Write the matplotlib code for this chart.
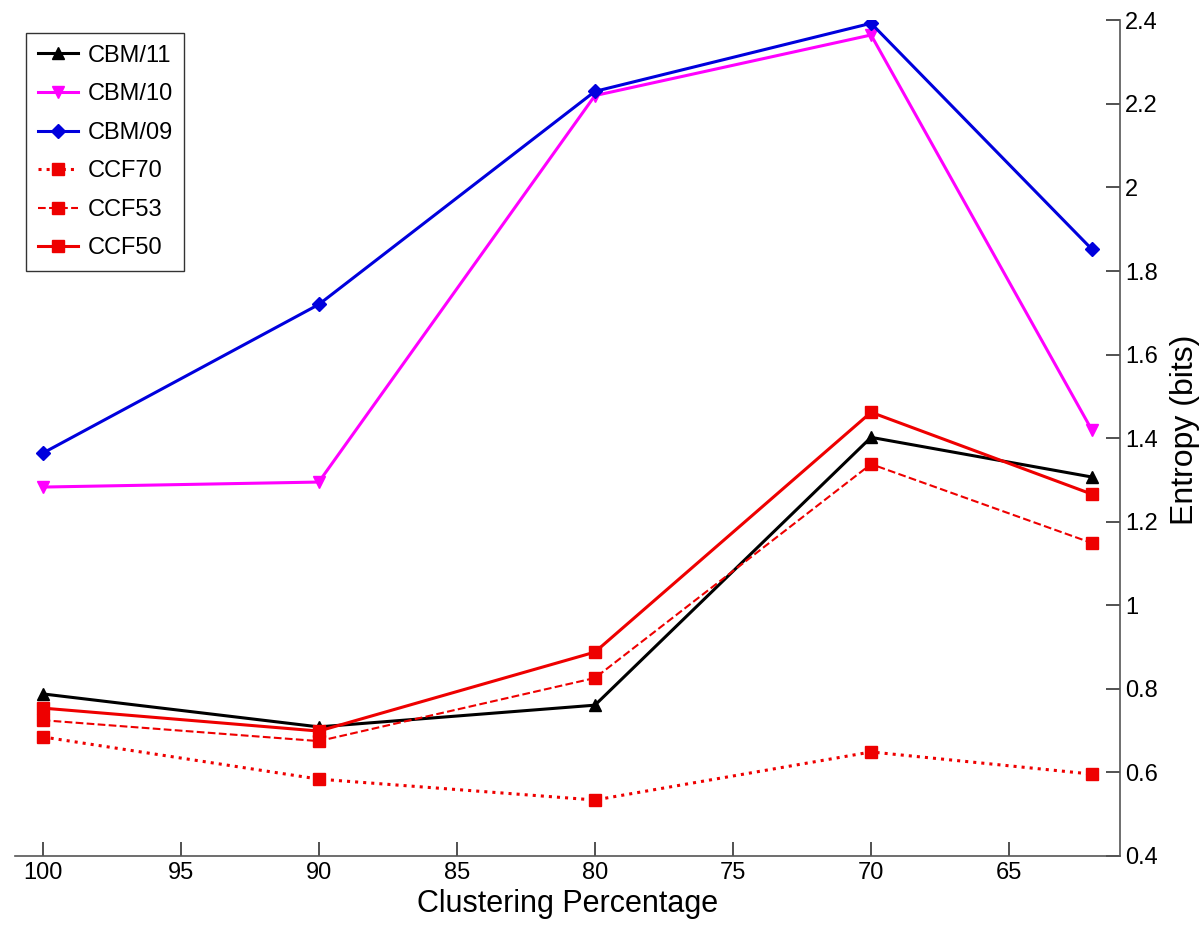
import matplotlib
matplotlib.use('Agg')
import matplotlib.pyplot as plt

plt.rcParams['font.family'] = ['Liberation Sans', 'DejaVu Sans']

# clustering percentage (x) and entropy values per method
clustering = [100, 90, 80, 70, 62]
cbm11 = [0.788, 0.709, 0.761, 1.402, 1.307]
cbm10 = [1.283, 1.295, 2.220, 2.365, 1.419]
cbm09 = [1.364, 1.720, 2.230, 2.393, 1.852]
ccf70 = [0.685, 0.584, 0.534, 0.649, 0.596]
ccf53 = [0.725, 0.675, 0.826, 1.338, 1.149]
ccf50 = [0.754, 0.699, 0.888, 1.462, 1.266]

fig = plt.figure(figsize=(12, 9.26), dpi=100)
ax = fig.add_axes([0.0125, 0.0756, 0.9205, 0.9024])

lw = 2.2
ax.plot(clustering, cbm11, color='black', marker='^', markersize=9, lw=lw, label='CBM/11')
ax.plot(clustering, cbm10, color='#ff00ff', marker='v', markersize=9, lw=lw, label='CBM/10')
ax.plot(clustering, cbm09, color='#0000dd', marker='D', markersize=7, lw=lw, label='CBM/09')
ax.plot(clustering, ccf70, color='#ee0000', marker='s', markersize=8, lw=lw, ls=':', label='CCF70')
ax.plot(clustering, ccf53, color='#ee0000', marker='s', markersize=8, lw=1.5, ls='--', label='CCF53')
ax.plot(clustering, ccf50, color='#ee0000', marker='s', markersize=8, lw=lw, label='CCF50')

ax.set_xlim(101, 61)
ax.set_ylim(0.4, 2.4)
ax.set_xticks([100, 95, 90, 85, 80, 75, 70, 65])
ax.set_yticks([0.4, 0.6, 0.8, 1, 1.2, 1.4, 1.6, 1.8, 2, 2.2, 2.4])
ax.set_yticklabels(['0.4', '0.6', '0.8', '1', '1.2', '1.4', '1.6', '1.8', '2', '2.2', '2.4'])

ax.yaxis.tick_right()
ax.yaxis.set_label_position('right')
ax.spines['left'].set_visible(False)
ax.spines['top'].set_visible(False)
for s in ['bottom', 'right']:
    ax.spines[s].set_color('#555555')
    ax.spines[s].set_linewidth(1.2)
ax.tick_params(direction='in', length=10, width=1.2, color='#333333', labelsize=17, pad=4)

ax.set_xlabel('Clustering Percentage', fontsize=22, labelpad=4)
ax.set_ylabel('Entropy (bits)', fontsize=23)
ax.yaxis.set_label_coords(1.046, 0.51)

leg = ax.legend(loc='upper left', bbox_to_anchor=(0.01, 0.985), fontsize=17,
                frameon=True, fancybox=False, edgecolor='black', handlelength=1.7,
                handletextpad=0.4, labelspacing=0.7, borderpad=0.5, borderaxespad=0)
leg.get_frame().set_linewidth(1.0)

fig.savefig('out.png', dpi=100)
